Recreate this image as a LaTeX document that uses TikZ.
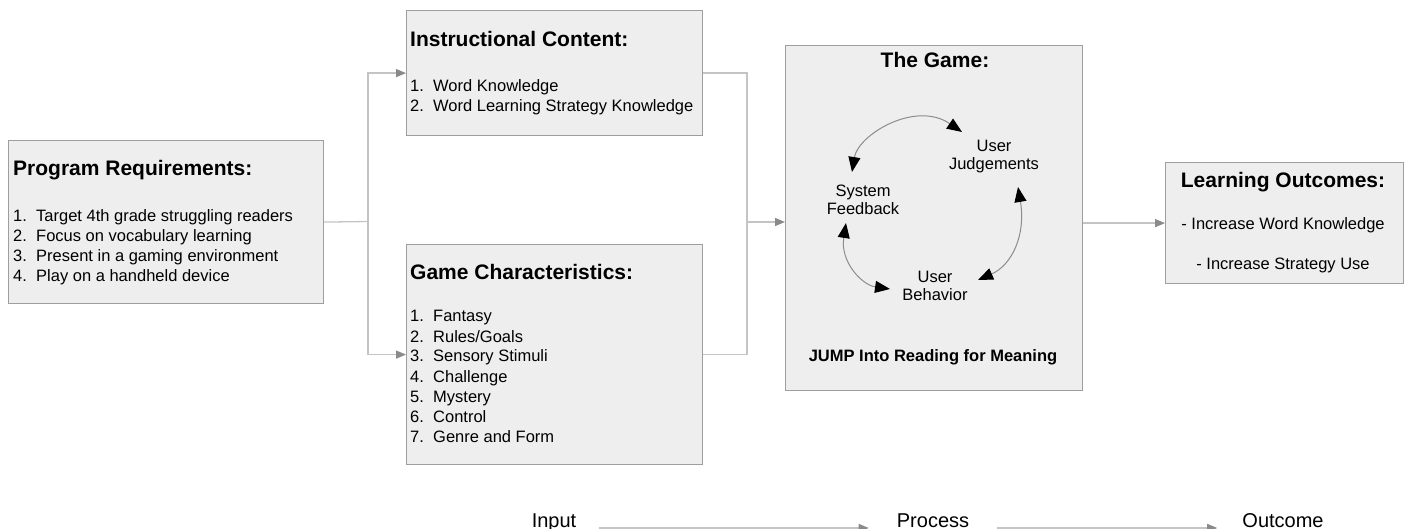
\documentclass[tikz,border=0pt]{standalone}
\usepackage{fontspec}
\setmainfont{Liberation Sans}
\usetikzlibrary{arrows.meta}
\definecolor{boxfill}{HTML}{EEEEEE}
\definecolor{boxline}{HTML}{9E9E9E}
\definecolor{wire}{HTML}{C4C4C4}
\definecolor{wiretip}{HTML}{8A8A8A}
\definecolor{loopline}{HTML}{8C8C8C}
\begin{document}
\begin{tikzpicture}[x=1pt,y=-1pt,
  panel/.style={draw=boxline, fill=boxfill, line width=1.2pt, inner sep=0pt, anchor=north west},
  ttl/.style={anchor=base west, inner sep=0pt, font=\fontsize{21}{25}\selectfont\bfseries},
  cttl/.style={ttl, anchor=base},
  txt/.style={anchor=base west, inner sep=0pt, font=\fontsize{16.5}{19}\selectfont},
  ctxt/.style={txt, anchor=base},
  btxt/.style={anchor=base, inner sep=0pt, font=\fontsize{20}{24}\selectfont},
  wire/.style={draw=wire, line width=1.3pt},
  flow/.style={wire, -{Triangle[length=10pt,width=8pt,color=wiretip]}},
  loop/.style={draw=loopline, line width=1pt,
    {Triangle[length=15pt,width=12pt,color=black]}-{Triangle[length=15pt,width=12pt,color=black]}},
]
\useasboundingbox (0,0) rectangle (1406,529);

% ---- boxes ----
\node[panel, minimum width=315pt, minimum height=163pt] (req) at (8,140) {};
\node[panel, minimum width=296pt, minimum height=125pt] (ic) at (406,10) {};
\node[panel, minimum width=296pt, minimum height=220pt] (gc) at (406,244) {};
\node[panel, minimum width=297pt, minimum height=345pt] (game) at (785,45) {};
\node[panel, minimum width=238pt, minimum height=121pt] (lo) at (1165,162) {};

% ---- program requirements ----
\node[ttl] (reqT) at (13,176) {Program Requirements:};
\node[txt] (req1) at (13,222) {\makebox[23pt][l]{1.}Target 4th grade struggling readers};
\node[txt] (req2) at (13,242) {\makebox[23pt][l]{2.}Focus on vocabulary learning};
\node[txt] (req3) at (13,262) {\makebox[23pt][l]{3.}Present in a gaming environment};
\node[txt] (req4) at (13,282) {\makebox[23pt][l]{4.}Play on a handheld device};

% ---- instructional content ----
\node[ttl] (icT) at (410,47) {Instructional Content:};
\node[txt] (ic1) at (410,92) {\makebox[23pt][l]{1.}Word Knowledge};
\node[txt] (ic2) at (410,112) {\makebox[23pt][l]{2.}Word Learning Strategy Knowledge};

% ---- game characteristics ----
\node[ttl] (gcT) at (410,280) {Game Characteristics:};
\node[txt] (gc1) at (410,322) {\makebox[23pt][l]{1.}Fantasy};
\node[txt] (gc2) at (410,342) {\makebox[23pt][l]{2.}Rules/Goals};
\node[txt] (gc3) at (410,362) {\makebox[23pt][l]{3.}Sensory Stimuli};
\node[txt] (gc4) at (410,382) {\makebox[23pt][l]{4.}Challenge};
\node[txt] (gc5) at (410,402) {\makebox[23pt][l]{5.}Mystery};
\node[txt] (gc6) at (410,422) {\makebox[23pt][l]{6.}Control};
\node[txt] (gc7) at (410,442) {\makebox[23pt][l]{7.}Genre and Form};

% ---- the game ----
\node[cttl] (gameT) at (935,68) {The Game:};
\node[ctxt] (uj1) at (994,152) {User};
\node[ctxt] (uj2) at (994,170) {Judgements};
\node[ctxt] (sf1) at (863,197) {System};
\node[ctxt] (sf2) at (863,215) {Feedback};
\node[ctxt] (ub1) at (935,283) {User};
\node[ctxt] (ub2) at (935,301) {Behavior};
\node[ctxt, font=\fontsize{16.5}{19}\selectfont\bfseries] (jump) at (933,362) {JUMP Into Reading for Meaning};

% feedback cycle
\coordinate (t1) at (852,172);
\coordinate (t2) at (962,132);
\coordinate (r1) at (1018,187);
\coordinate (r2) at (978,280);
\coordinate (l1) at (846,223);
\coordinate (l2) at (890,289);
\draw[loop] (t1) .. controls (858,135) and (915,100) .. (t2);
\draw[loop] (r1) .. controls (1026,235) and (1012,265) .. (r2);
\draw[loop] (l1) .. controls (840,262) and (862,285) .. (l2);

% ---- learning outcomes ----
\node[cttl] (loT) at (1283,188) {Learning Outcomes:};
\node[ctxt] (lo1) at (1283,230) {- Increase Word Knowledge};
\node[ctxt] (lo2) at (1283,270) {- Increase Strategy Use};

% ---- connectors ----
\coordinate (split) at (368,221.5);
\coordinate (merge) at (747,222);
\draw[wire] (req.east) -- (split);
\draw[flow] (split) |- (ic.west);
\draw[flow] (split) |- (gc.west);
\draw[wire] (ic.east) -| (merge) |- (gc.east);
\draw[flow] (merge) -- (merge -| game.west);
\draw[flow] (game.east |- lo.west) -- (lo.west);

% ---- stage legend ----
\node[btxt] (inp) at (554,527) {Input};
\node[btxt] (prc) at (933,527) {Process};
\node[btxt] (out) at (1283,527) {Outcome};
\draw[flow] ([shift={(23,1)}]inp.base east) -- ([shift={(-28,1)}]prc.base west);
\draw[flow] ([shift={(28,1)}]prc.base east) -- ([shift={(-25,1)}]out.base west);
\end{tikzpicture}
\end{document}
